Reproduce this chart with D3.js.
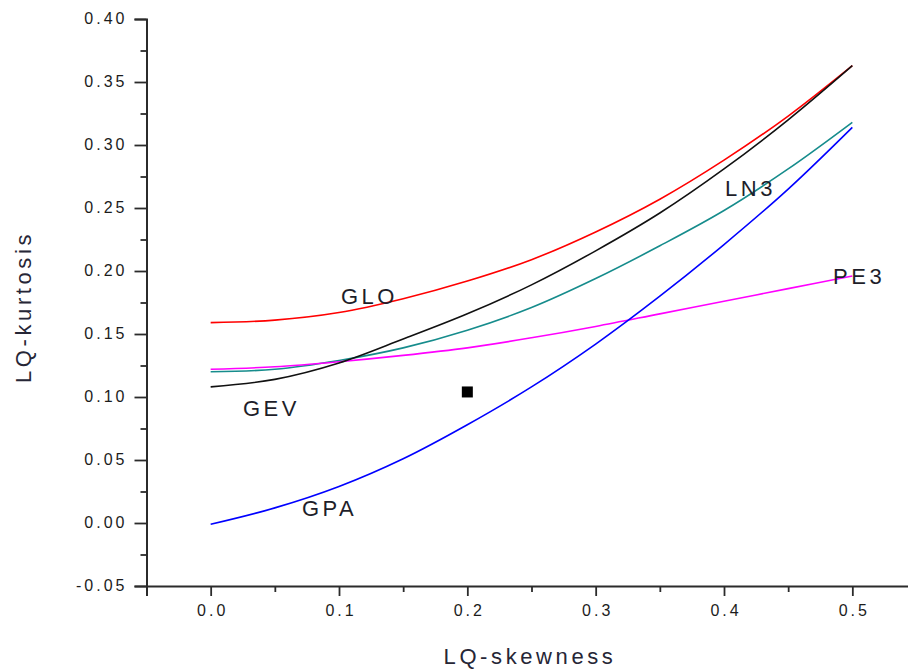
<!DOCTYPE html>
<html>
<head>
<meta charset="utf-8">
<script src="https://cdn.jsdelivr.net/npm/d3@7/dist/d3.min.js"></script>
<style>
  html, body { margin: 0; padding: 0; background: #fff; }
  svg { display: block; font-family: Arial, "Liberation Sans", sans-serif; }
</style>
</head>
<body>
<svg id="chart" width="908" height="671"></svg>
<script>
// ---- data ----
const skewness = [0, 0.05, 0.10, 0.15, 0.20, 0.25, 0.30, 0.35, 0.40, 0.45, 0.50];
const gloValues = [0.159, 0.161, 0.167, 0.178, 0.192, 0.209, 0.231, 0.257, 0.288, 0.323, 0.363];
const gevValues = [0.108, 0.114, 0.127, 0.146, 0.166, 0.189, 0.216, 0.246, 0.281, 0.320, 0.363];
const ln3Values = [0.120, 0.122, 0.129, 0.139, 0.153, 0.171, 0.194, 0.220, 0.248, 0.281, 0.318];
const pe3Values = [0.122, 0.124, 0.128, 0.133, 0.139, 0.147, 0.156, 0.166, 0.176, 0.186, 0.196];
const gpaValues = [-0.001, 0.012, 0.029, 0.051, 0.078, 0.108, 0.142, 0.180, 0.221, 0.265, 0.314];
const sampleSkew = [0.20];
const sampleKurt = [0.104];
const xTickValues = [0.0, 0.1, 0.2, 0.3, 0.4, 0.5];
const xMinorValues = [-0.05, 0.05, 0.15, 0.25, 0.35, 0.45, 0.55];
const yTickValues = [-0.05, 0.00, 0.05, 0.10, 0.15, 0.20, 0.25, 0.30, 0.35, 0.40];
const yMinorValues = [-0.025, 0.025, 0.075, 0.125, 0.175, 0.225, 0.275, 0.325, 0.375];

const series = [
  { name: "GLO", values: gloValues, color: "#ff0000" },
  { name: "LN3", values: ln3Values, color: "#168c8c" },
  { name: "PE3", values: pe3Values, color: "#ff00ff" },
  { name: "GPA", values: gpaValues, color: "#0000ff" },
  { name: "GEV", values: gevValues, color: "#111111" }
];

// ---- layout ----
const svg = d3.select("#chart");
const x = d3.scaleLinear().domain([-0.05, 0.55]).range([146.5, 916.5]);
const y = d3.scaleLinear().domain([-0.05, 0.40]).range([586, 19]);

const axisColor = "#2b2b2b";
const textColor = "#1c1c1c";

// curves
const line = d3.line()
  .x((d, i) => x(skewness[i]))
  .y(d => y(d))
  .curve(d3.curveCatmullRom.alpha(0.5));

svg.append("g").selectAll("path")
  .data(series)
  .join("path")
  .attr("d", d => line(d.values))
  .attr("fill", "none")
  .attr("stroke", d => d.color)
  .attr("stroke-width", 1.6);

// sample point
svg.append("g").selectAll("rect")
  .data(sampleSkew.map((s, i) => [s, sampleKurt[i]]))
  .join("rect")
  .attr("x", d => x(d[0]) - 5.5)
  .attr("y", d => y(d[1]) - 5.5)
  .attr("width", 11)
  .attr("height", 11)
  .attr("fill", "#000");

// axes
const xAxis = svg.append("g")
  .attr("transform", `translate(0,${y(-0.05)})`)
  .call(d3.axisBottom(x).tickValues(xTickValues).tickSize(10).tickPadding(9)
    .tickFormat(d => d.toFixed(1)));
const xMinor = svg.append("g")
  .attr("transform", `translate(0,${y(-0.05)})`)
  .call(d3.axisBottom(x).tickValues(xMinorValues).tickSize(6).tickFormat(""));

const yAxis = svg.append("g")
  .attr("transform", `translate(${x(-0.05)},0)`)
  .call(d3.axisLeft(y).tickValues(yTickValues).tickSize(12).tickPadding(10)
    .tickFormat(d => d.toFixed(2)));
const yMinor = svg.append("g")
  .attr("transform", `translate(${x(-0.05)},0)`)
  .call(d3.axisLeft(y).tickValues(yMinorValues).tickSize(6).tickFormat(""));

[xAxis, xMinor, yAxis, yMinor].forEach(g => {
  g.select(".domain").attr("stroke", axisColor).attr("stroke-width", 2);
  g.selectAll(".tick line").attr("stroke", axisColor).attr("stroke-width", 1.8);
});
xMinor.select(".domain").remove();
yMinor.select(".domain").remove();

xAxis.selectAll(".tick text")
  .attr("fill", textColor)
  .style("font-size", "16px")
  .style("letter-spacing", "3px")
  .attr("dx", "1.5px");
yAxis.selectAll(".tick text")
  .attr("fill", textColor)
  .style("font-size", "16px")
  .style("letter-spacing", "3px")
  .attr("dx", "3px")
  .attr("dy", "0.28em");

// axis titles
svg.append("text")
  .attr("x", 530)
  .attr("y", 664)
  .attr("text-anchor", "middle")
  .attr("fill", "#262636")
  .style("font-size", "22px")
  .style("letter-spacing", "3.6px")
  .text("LQ-skewness");

svg.append("text")
  .attr("transform", "translate(31,307) rotate(-90)")
  .attr("text-anchor", "middle")
  .attr("fill", "#262636")
  .style("font-size", "22px")
  .style("letter-spacing", "3.6px")
  .text("LQ-kurtosis");

// curve labels (data coordinates)
const curveLabels = [
  { name: "GLO", sx: 0.1015, ky: 0.174 },
  { name: "GEV", sx: 0.0252, ky: 0.085 },
  { name: "GPA", sx: 0.0711, ky: 0.0057 },
  { name: "LN3", sx: 0.4008, ky: 0.2595 },
  { name: "PE3", sx: 0.4850, ky: 0.1895 }
];
svg.append("g").selectAll("text")
  .data(curveLabels)
  .join("text")
  .attr("x", d => x(d.sx))
  .attr("y", d => y(d.ky))
  .attr("fill", "#1e1e2a")
  .style("font-size", "22px")
  .style("letter-spacing", "3.5px")
  .text(d => d.name);
</script>
</body>
</html>
